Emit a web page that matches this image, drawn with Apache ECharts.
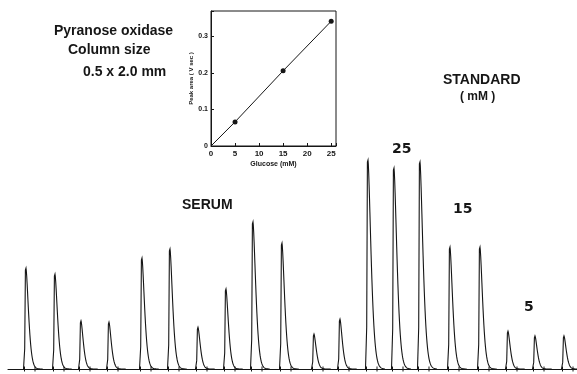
<!DOCTYPE html>
<html>
<head>
<meta charset="utf-8">
<script src="https://cdn.jsdelivr.net/npm/echarts@6/dist/echarts.min.js"></script>
<style>html,body{margin:0;padding:0;background:#fff;}#c{width:577px;height:374px;}</style>
</head>
<body>
<div id="c"></div>
<script>
// Main trace: peak injection times (arbitrary time units) and peak heights (relative detector response)
var peakTimes = [25, 54, 80, 108, 141, 169, 197, 225, 252, 281, 313, 339, 367, 393, 419, 449, 479, 507, 534, 563];
var peakHeights = [27.7, 26.1, 13.2, 12.9, 30.5, 33.0, 11.5, 22.0, 40.4, 34.6, 9.6, 13.7, 57.4, 55.2, 56.9, 33.5, 33.5, 10.4, 9.1, 9.1];

// Inset calibration: glucose (mM) vs peak area (V sec)
var glucose = [0, 5, 15, 25];
var peakArea = [0, 0.066, 0.206, 0.342];
var insetXTicks = [0, 5, 10, 15, 20, 25];
var insetYTicks = [0, 0.1, 0.2, 0.3];

var peakData = peakTimes.map(function (t, i) { return [t, peakHeights[i]]; });
var calData = glucose.map(function (g, i) { return [g, peakArea[i]]; });

var INK = '#161616';
var chart = echarts.init(document.getElementById('c'), null, { renderer: 'canvas' });

function renderPeak(params, api) {
  var x0 = api.value(0), h = api.value(1);
  var b = api.coord([x0, 0]);
  var t = api.coord([x0, h]);
  var H = b[1] - t[1];
  var w = 3.1 + 0.006 * H;
  var pts = [[b[0] - 1.5, b[1]], [b[0] - 0.3, b[1] - 0.2 * H], [b[0] + 0.4, t[1] + 2], [b[0] + 1.0, t[1]]];
  for (var d = 0.3; d <= 17; d += 0.4) {
    pts.push([b[0] + 1.0 + d, b[1] - H * Math.exp(-Math.pow(d / w, 1.5))]);
  }
  return {
    type: 'group',
    children: [
      { type: 'polyline', shape: { points: pts }, style: { stroke: INK, lineWidth: 1.1, fill: null } },
      { type: 'line', shape: { x1: b[0] - 0.5, y1: b[1] - 2.5, x2: b[0] - 0.5, y2: b[1] + 2.5 }, style: { stroke: INK, lineWidth: 1 } },
      { type: 'line', shape: { x1: b[0] + 10, y1: b[1] - 2.5, x2: b[0] + 10, y2: b[1] + 2.5 }, style: { stroke: INK, lineWidth: 1 } }
    ]
  };
}

var boldText = function (text, x, y, size, fam, align) {
  return {
    type: 'text', x: x, y: y,
    style: { text: text, font: 'bold ' + size + 'px ' + fam, fill: INK, textAlign: align || 'left', textVerticalAlign: 'middle' }
  };
};

var option = {
  animation: false,
  backgroundColor: '#fff',
  grid: [
    { left: 8, right: 0, top: 5, bottom: 5 },
    { left: 211, top: 11, width: 125, height: 135, show: true, borderColor: INK, borderWidth: 1, backgroundColor: 'transparent' }
  ],
  xAxis: [
    { gridIndex: 0, type: 'value', min: 8, max: 577, axisLine: { show: true, onZero: true, lineStyle: { color: INK, width: 1.1 } },
      axisTick: { show: false }, axisLabel: { show: false }, splitLine: { show: false } },
    { gridIndex: 1, type: 'value', min: 0, max: 26, interval: 5,
      name: 'Glucose (mM)', nameLocation: 'middle', nameGap: 15,
      nameTextStyle: { fontFamily: 'Liberation Sans', fontWeight: 'bold', fontSize: 7, color: INK },
      axisLine: { show: true, lineStyle: { color: INK, width: 1 } },
      axisTick: { show: true, inside: true, length: 3, lineStyle: { color: INK } },
      axisLabel: { show: true, margin: 4, fontFamily: 'Liberation Sans', fontWeight: 'bold', fontSize: 8, color: INK,
        formatter: function (v) { return insetXTicks.indexOf(v) >= 0 ? String(v) : ''; } },
      splitLine: { show: false } }
  ],
  yAxis: [
    { gridIndex: 0, type: 'value', min: 0, max: 100, show: false },
    { gridIndex: 1, type: 'value', min: 0, max: 0.37, interval: 0.1,
      name: 'Peak area ( V sec )', nameLocation: 'middle', nameGap: 12, nameRotate: 90,
      nameTextStyle: { fontFamily: 'Liberation Sans', fontWeight: 'bold', fontSize: 6, color: INK },
      axisLine: { show: true, lineStyle: { color: INK, width: 1 } },
      axisTick: { show: true, inside: true, length: 3, lineStyle: { color: INK } },
      axisLabel: { show: true, margin: 3, fontFamily: 'Liberation Sans', fontWeight: 'bold', fontSize: 7, color: INK,
        formatter: function (v) {
          for (var i = 0; i < insetYTicks.length; i++) {
            if (Math.abs(v - insetYTicks[i]) < 1e-6) { return v === 0 ? '0' : v.toFixed(1); }
          }
          return '';
        } },
      splitLine: { show: false } }
  ],
  series: [
    { type: 'custom', xAxisIndex: 0, yAxisIndex: 0, data: peakData, renderItem: renderPeak, silent: true, clip: false },
    { type: 'line', xAxisIndex: 1, yAxisIndex: 1, data: calData, silent: true,
      lineStyle: { color: INK, width: 1 },
      symbol: 'circle', symbolSize: function (v) { return v[0] === 0 ? 0 : 5; },
      itemStyle: { color: INK, borderWidth: 0 } }
  ],
  graphic: [
    boldText('Pyranose oxidase', 54, 31, 14, 'Liberation Sans'),
    boldText('Column size', 68, 50, 14, 'Liberation Sans'),
    boldText('0.5 x 2.0 mm', 83, 72, 14, 'Liberation Sans'),
    boldText('STANDARD', 443, 80, 14, 'Liberation Sans'),
    boldText('( mM )', 460, 97, 12, 'Liberation Sans'),
    boldText('SERUM', 182, 205, 14, 'Liberation Sans'),
    boldText('25', 392, 149, 14, 'DejaVu Sans'),
    boldText('15', 453, 209, 14, 'DejaVu Sans'),
    boldText('5', 524, 307, 14, 'DejaVu Sans')
  ]
};
chart.setOption(option);
</script>
</body>
</html>
